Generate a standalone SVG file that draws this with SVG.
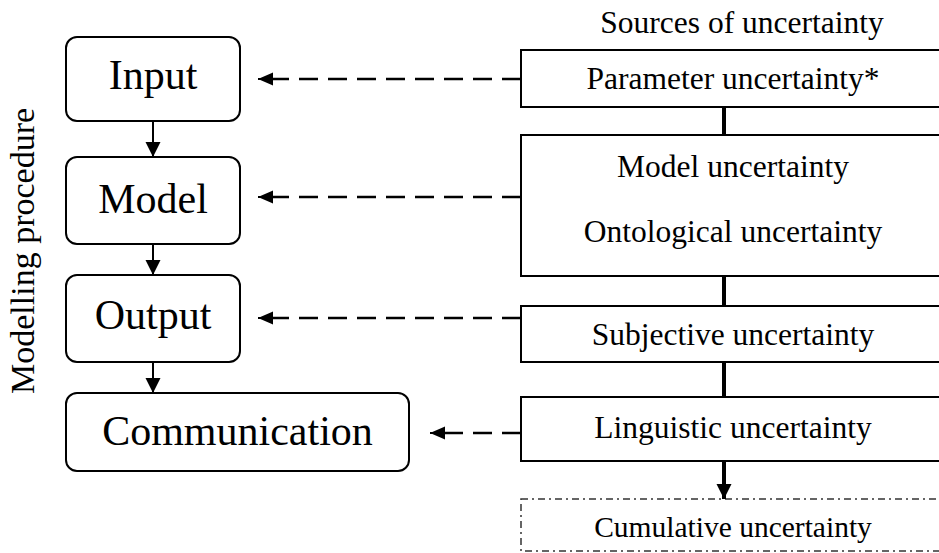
<svg xmlns="http://www.w3.org/2000/svg" width="939" height="553" viewBox="0 0 939 553">
<style>
.rbox{fill:#fff;stroke:#000;stroke-width:2}
.sbox{fill:#fff;stroke:#000;stroke-width:2}
text{font-family:'Liberation Serif','Times New Roman',serif;fill:#000;text-anchor:middle}
.big{font-size:42px}
.med{font-size:31.5px}
.flow{stroke:#000;stroke-width:2;fill:none}
.dash{stroke:#000;stroke-width:2.5;fill:none;stroke-dasharray:19 10}
.thick{stroke:#000;stroke-width:4;fill:none}
</style>
<defs>
<marker id="ah" markerUnits="userSpaceOnUse" markerWidth="16" markerHeight="18" refX="15" refY="7.5" orient="auto">
<path d="M0,0 L15,7.5 L0,15 z" fill="#000"/>
</marker>
<marker id="ahs" markerUnits="userSpaceOnUse" markerWidth="16" markerHeight="14" refX="15" refY="6.5" orient="auto">
<path d="M0,0 L15,6.5 L0,13 z" fill="#000"/>
</marker>
</defs>
<text x="0" y="0" transform="translate(34,251) rotate(-90)" font-size="34">Modelling procedure</text>
<text class="med" x="742" y="33">Sources of uncertainty</text>
<g id="input"><rect class="rbox" x="66" y="37" width="174" height="84" rx="11"/><text class="big" x="153" y="89">Input</text></g>
<g id="model"><rect class="rbox" x="66" y="157" width="174" height="87" rx="11"/><text class="big" x="153" y="213">Model</text></g>
<g id="output"><rect class="rbox" x="66" y="275" width="174" height="87" rx="11"/><text class="big" x="153" y="329">Output</text></g>
<g id="communication"><rect class="rbox" x="66" y="393" width="343" height="78" rx="11"/><text class="big" x="237.5" y="445">Communication</text></g>
<g id="parameter"><rect class="sbox" x="521" y="50" width="430" height="57"/><text class="med" x="733" y="89">Parameter uncertainty*</text></g>
<g id="model-ontological"><rect class="sbox" x="521" y="135" width="430" height="141"/><text class="med" x="733" y="177">Model uncertainty</text><text class="med" x="733" y="242">Ontological uncertainty</text></g>
<g id="subjective"><rect class="sbox" x="521" y="306" width="430" height="56"/><text class="med" x="733" y="345">Subjective uncertainty</text></g>
<g id="linguistic"><rect class="sbox" x="521" y="397" width="430" height="64"/><text class="med" x="733" y="438">Linguistic uncertainty</text></g>
<g id="cumulative"><rect x="521" y="499" width="430" height="52" fill="#fff" stroke="#333" stroke-width="1.5" stroke-dasharray="7 4 2 4"/><text x="733" y="537" font-size="29.5">Cumulative uncertainty</text></g>
<g id="connectors">
<line class="flow" x1="153" y1="121" x2="153" y2="157" marker-end="url(#ah)"/>
<line class="flow" x1="153" y1="244" x2="153" y2="275" marker-end="url(#ah)"/>
<line class="flow" x1="153" y1="362" x2="153" y2="393" marker-end="url(#ah)"/>
<line class="dash" x1="521" y1="79" x2="272" y2="79"/>
<line class="flow" x1="274" y1="79" x2="258" y2="79" marker-end="url(#ahs)"/>
<line class="dash" x1="521" y1="197" x2="272" y2="197"/>
<line class="flow" x1="274" y1="197" x2="258" y2="197" marker-end="url(#ahs)"/>
<line class="dash" x1="521" y1="318" x2="272" y2="318"/>
<line class="flow" x1="274" y1="318" x2="258" y2="318" marker-end="url(#ahs)"/>
<line class="dash" x1="521" y1="433" x2="444" y2="433"/>
<line class="flow" x1="446" y1="433" x2="430" y2="433" marker-end="url(#ahs)"/>
<line class="thick" x1="724" y1="107" x2="724" y2="135"/>
<line class="thick" x1="724" y1="276" x2="724" y2="306"/>
<line class="thick" x1="724" y1="362" x2="724" y2="397"/>
<line class="thick" x1="724" y1="461" x2="724" y2="499" marker-end="url(#ah)"/>
</g>
</svg>
